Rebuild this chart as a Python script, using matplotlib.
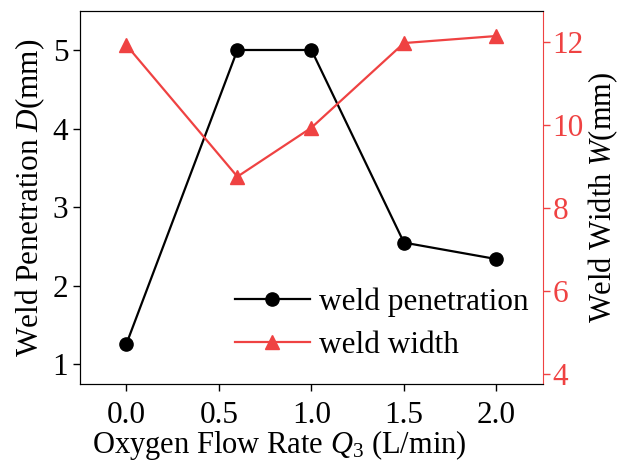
import numpy as np
import matplotlib
matplotlib.use('Agg')
import matplotlib.pyplot as plt

plt.rcParams['font.family'] = 'Liberation Serif'
plt.rcParams['mathtext.fontset'] = 'custom'
plt.rcParams['mathtext.rm'] = 'Liberation Serif'
plt.rcParams['mathtext.it'] = 'Liberation Serif:italic'

flow = [0.0, 0.6, 1.0, 1.5, 2.0]
penetration = [1.26, 5.0, 5.0, 2.55, 2.34]
width = [11.92, 8.75, 9.93, 11.97, 12.14]

red = '#EF4242'
fs = 22.5

fig, ax = plt.subplots(figsize=(6.21, 4.65), dpi=100)
fig.subplots_adjust(left=0.129, right=0.874, top=0.977, bottom=0.174)
ax2 = ax.twinx()

l1, = ax.plot(flow, penetration, '-o', color='black', lw=1.6, ms=9.5, label='weld penetration')
l2, = ax2.plot(flow, width, '-^', color=red, lw=1.6, ms=10, label='weld width')

ax.set_xlim(-0.25, 2.25)
ax.set_ylim(0.75, 5.5)
ax2.set_ylim(3.75, 12.75)
ax.set_xticks([0.0, 0.5, 1.0, 1.5, 2.0])
ax.set_xticklabels(['0.0', '0.5', '1.0', '1.5', '2.0'])
ax.set_yticks([1, 2, 3, 4, 5])
ax2.set_yticks([4, 6, 8, 10, 12])

ax.tick_params(axis='both', labelsize=fs, direction='out', length=5, width=1)
ax.tick_params(axis='x', pad=7)
ax2.tick_params(axis='y', labelsize=fs, direction='out', length=5, width=1,
                colors=red, pad=2)
ax2.spines['right'].set_color(red)
ax.spines['right'].set_visible(False)

ax.set_xlabel(r'Oxygen Flow Rate $Q_{\mathit{3}}$ (L/min)', fontsize=22)
ax.xaxis.set_label_coords(0.43, -0.117, transform=ax.transAxes)
ax.xaxis.label.set_va('top')
ax.set_ylabel('Weld Penetration $D$(mm)', fontsize=fs)
ax2.set_ylabel('Weld Width $W$(mm)', fontsize=22, labelpad=2)

ax.legend(handles=[l1, l2], loc='lower right', frameon=False, fontsize=fs,
          handlelength=2.4, handletextpad=0.3, labelspacing=0.45,
          bbox_to_anchor=(1.03, -0.01))

fig.savefig('out.png', dpi=100)
